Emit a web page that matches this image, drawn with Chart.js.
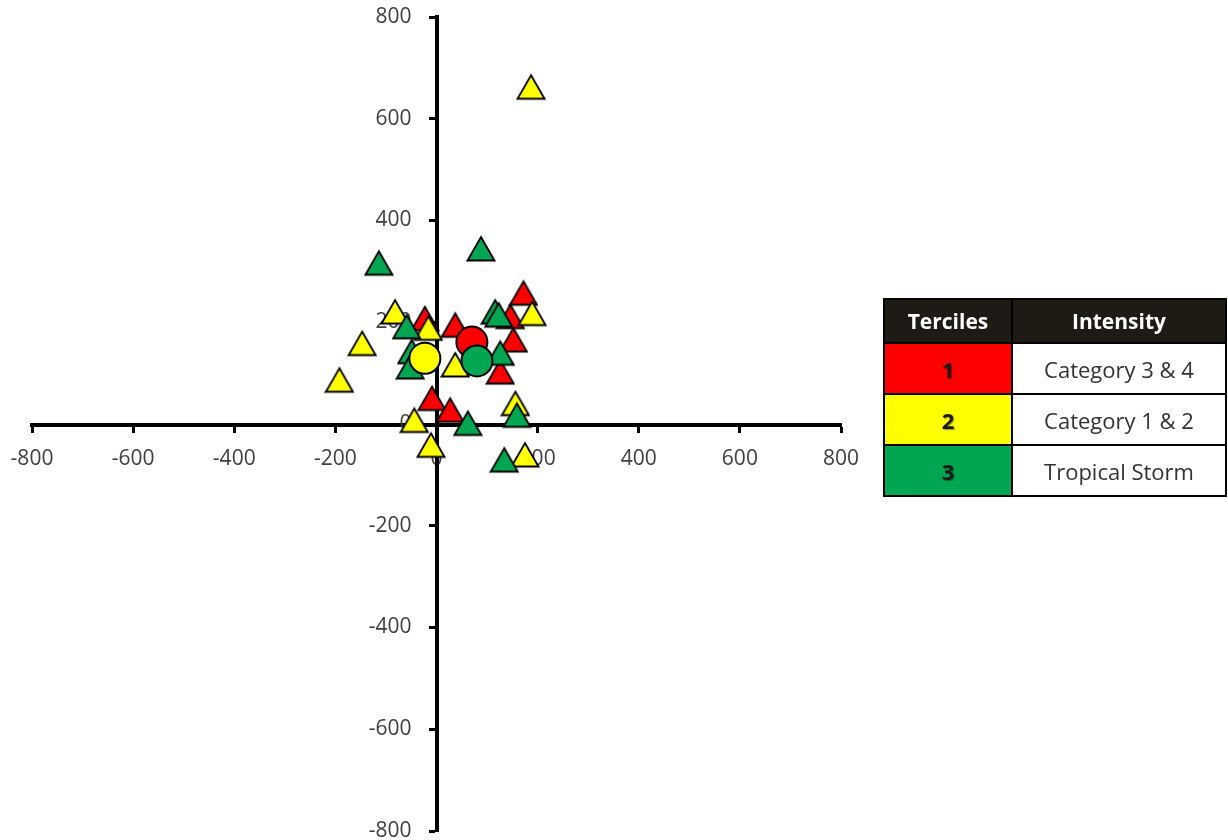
<!DOCTYPE html>
<html>
<head>
<meta charset="utf-8">
<script src="https://cdn.jsdelivr.net/npm/chart.js@4.4.1/dist/chart.umd.min.js"></script>
<style>
  body { margin: 0; background: #fff; }
  .wrap { position: relative; width: 1228px; height: 840px; }
  .terciles {
    position: absolute; left: 883px; top: 298px; width: 344px; height: 194px;
    border-collapse: collapse; font-family: "Open Sans", sans-serif; font-size: 22px;
  }
  .terciles td, .terciles th { border: 2px solid #000; text-align: center; padding: 0; }
  .terciles th { background: #1d1b14; color: #fff; font-weight: bold; height: 42px; font-size: 21px; }
  .terciles td { height: 49px; color: #333; }
  .terciles td.num { font-weight: bold; color: #1a1a1a; text-shadow: 1px 1px 1px rgba(0,0,0,0.4); width: 126px; }
</style>
</head>
<body>
<div class="wrap">
  <canvas class="myChart" width="1228" height="840"></canvas>
  <table class="terciles">
    <tr><th>Terciles</th><th>Intensity</th></tr>
    <tr><td class="num" style="background:#ff0000">1</td><td>Category 3 &amp; 4</td></tr>
    <tr><td class="num" style="background:#ffff00">2</td><td>Category 1 &amp; 2</td></tr>
    <tr><td class="num" style="background:#00a651">3</td><td>Tropical Storm</td></tr>
  </table>
</div>
<script>
var myChart = document.querySelector(".myChart").getContext("2d");

// tercile 1 - category 3 & 4 (red)
var redX = [-23, 37, 172, 146, 152, 126, -9, 27];
var redY = [207, 194, 257, 211, 165, 102, 50, 27];

// tercile 2 - category 1 & 2 (yellow)
var yellowX = [187, -82, 189, -16, -147, 37, -192, 156, -44, -11, 175];
var yellowY = [662, 220, 217, 188, 158, 116, 86, 40, 7, -42, -61];

// tercile 3 - tropical storm (green)
var greenX = [-114, 88, 116, 123, -59, -49, -52, 126, 159, 62, 134];
var greenY = [316, 344, 220, 214, 191, 142, 112, 139, 17, 1, -71];

// big circles = tercile means
var meanX = [70, -23, 80];
var meanY = [161, 129, 124];

var colors = ["#ff0000", "#ffff00", "#00a651"];
var axisTicks = [-800, -600, -400, -200, 0, 200, 400, 600, 800];

function toPoints(xs, ys) {
  var pts = [];
  for (let i = 0; i < xs.length; i++) {
    pts.push({ x: xs[i], y: ys[i] });
  }
  return pts;
}

// excel style triangle marker: centred on its box, not on its centroid
function makeTri(color) {
  var c = document.createElement("canvas");
  c.width = 30;
  c.height = 28;
  var g = c.getContext("2d");
  g.beginPath();
  g.moveTo(15, 2);
  g.lineTo(28.5, 25.5);
  g.lineTo(1.5, 25.5);
  g.closePath();
  g.fillStyle = color;
  g.fill();
  g.lineWidth = 1.8;
  g.lineJoin = "miter";
  g.strokeStyle = "#000";
  g.stroke();
  return c;
}

function triSet(label, xs, ys, color, order) {
  return {
    label: label,
    data: toPoints(xs, ys),
    pointStyle: makeTri(color),
    pointRadius: 15,
    pointHoverRadius: 15,
    backgroundColor: color,
    borderColor: "#000",
    order: order,
  };
}

var datasets = [
  triSet("1", redX, redY, colors[0], 5),
  triSet("2", yellowX, yellowY, colors[1], 4),
  triSet("3", greenX, greenY, colors[2], 3),
];
for (let i = 0; i < 3; i++) {
  datasets.push({
    label: "mean " + (i + 1),
    data: [{ x: meanX[i], y: meanY[i] }],
    pointStyle: "circle",
    pointRadius: 15.5,
    pointHoverRadius: 15.5,
    backgroundColor: colors[i],
    borderColor: "#000",
    borderWidth: 2,
    order: 2 - i,
  });
}

var tickFont = { family: "'Open Sans', sans-serif", size: 21 };

function axisOpts(pad) {
  return {
    type: "linear",
    position: "center",
    min: -800,
    max: 800,
    afterBuildTicks: function (scale) {
      scale.ticks = axisTicks.map(function (v) { return { value: v }; });
    },
    // end labels may hang outside the plot, don't let them shrink it
    afterFit: function (scale) {
      scale.paddingTop = 0;
      scale.paddingBottom = 0;
      scale.paddingLeft = 0;
      scale.paddingRight = 0;
    },
    grid: {
      display: true,
      drawOnChartArea: false,
      drawTicks: true,
      tickLength: 6,
      tickWidth: 3,
      tickColor: "#000",
    },
    border: { display: true, color: "#000", width: 4 },
    ticks: { color: "#404040", font: tickFont, padding: pad, maxRotation: 0, autoSkip: false },
  };
}

var chart = new Chart(myChart, {
  type: "scatter",
  data: { datasets: datasets },
  options: {
    responsive: false,
    animation: { duration: 0 },
    layout: { autoPadding: false, padding: { left: 32, right: 387, top: 17, bottom: 9 } },
    plugins: { legend: { display: false }, tooltip: { enabled: false } },
    scales: {
      x: axisOpts(16),
      y: axisOpts(19),
    },
  },
});
</script>
</body>
</html>
